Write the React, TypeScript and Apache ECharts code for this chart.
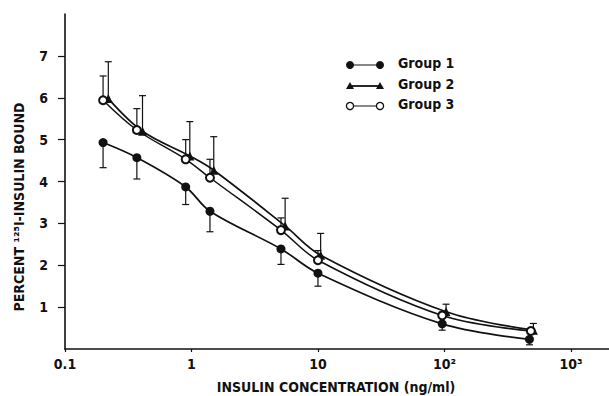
import React, { useEffect, useRef } from "react";
import * as echarts from "echarts";

// Concentrations (ng/ml)
const CONC_G1 = [0.2, 0.37, 0.9, 1.4, 5.1, 10, 96, 470];
const CONC_G2 = [0.22, 0.41, 0.97, 1.5, 5.5, 10.5, 103, 505];
const CONC_G3 = [0.2, 0.37, 0.9, 1.4, 5.1, 10, 96, 482];

// Percent 125I-insulin bound
const BOUND_G1 = [4.93, 4.57, 3.87, 3.29, 2.39, 1.81, 0.6, 0.23];
const BOUND_G2 = [5.98, 5.2, 4.61, 4.27, 2.94, 2.24, 0.89, 0.45];
const BOUND_G3 = [5.94, 5.23, 4.53, 4.09, 2.84, 2.12, 0.8, 0.43];

// Error bars (SD): group 1 drawn downward, groups 2 and 3 upward
const ERR_G1 = [0.6, 0.51, 0.42, 0.49, 0.37, 0.31, 0.15, 0.13];
const ERR_G2 = [0.88, 0.85, 0.82, 0.8, 0.66, 0.52, 0.18, 0.16];
const ERR_G3 = [0.58, 0.51, 0.47, 0.44, 0.29, 0.23, 0.08, 0.06];

const X_TICKS = [0.1, 1, 10, 100, 1000];
const X_TICK_LABELS = ["0.1", "1", "10", "10²", "10³"];
const Y_TICKS = [1, 2, 3, 4, 5, 6, 7];

const GROUP_NAMES = ["Group 1", "Group 2", "Group 3"];

const FONT = "'DejaVu Sans Condensed', 'Liberation Sans Narrow', 'DejaVu Sans', sans-serif";
const INK = "#111";

function zip(xs: number[], ys: number[], es?: number[]) {
  return xs.map((x, i) => (es ? [x, ys[i], es[i]] : [x, ys[i]]));
}

function errorSeries(data: number[][], dir: number) {
  return {
    type: "custom",
    silent: true,
    z: 1,
    encode: { x: 0, y: 1 },
    data,
    renderItem: (params: any, api: any) => {
      const x = api.value(0);
      const y = api.value(1);
      const e = api.value(2);
      const p0 = api.coord([x, y]);
      const p1 = api.coord([x, y + dir * e]);
      const st = { stroke: INK, lineWidth: 1.2 };
      return {
        type: "group",
        children: [
          { type: "line", shape: { x1: p0[0], y1: p0[1], x2: p1[0], y2: p1[1] }, style: st },
          { type: "line", shape: { x1: p1[0] - 3.5, y1: p1[1], x2: p1[0] + 3.5, y2: p1[1] }, style: st },
        ],
      };
    },
  };
}

export default function App() {
  const ref = useRef<HTMLDivElement>(null);
  useEffect(() => {
    if (!ref.current) return;
    const chart = echarts.init(ref.current, undefined, { renderer: "svg" });

    const legendRow = (i: number, y: number, textY: number) => {
      const kids: any[] = [
        { type: "line", shape: { x1: 350, y1: y, x2: 380, y2: y }, style: { stroke: INK, lineWidth: i === 1 ? 1.8 : 1 } },
      ];
      [350, 380].forEach((cx) => {
        if (i === 0) kids.push({ type: "circle", shape: { cx, cy: y, r: 4 }, style: { fill: INK } });
        if (i === 1)
          kids.push({
            type: "polygon",
            shape: { points: [[cx - 4, y + 3], [cx + 4, y + 3], [cx, y - 4]] },
            style: { fill: INK },
          });
        if (i === 2)
          kids.push({ type: "circle", shape: { cx, cy: y, r: 3.6 }, style: { fill: "#fff", stroke: INK, lineWidth: 1.3 } });
      });
      kids.push({
        type: "text",
        x: 398,
        y: textY,
        style: {
          text: GROUP_NAMES[i],
          font: `bold 14px ${FONT}`,
          fill: INK,
          textVerticalAlign: "middle",
          textAlign: "left",
        },
      });
      return { type: "group", children: kids };
    };

    const lineCommon = {
      type: "line",
      smooth: 0.35,
      symbolSize: 9,
    };

    const option: any = {
      animation: false,
      textStyle: { fontFamily: FONT },
      grid: { left: 65, right: 0, top: 14, bottom: 47, containLabel: false },
      xAxis: {
        type: "log",
        logBase: 10,
        min: 0.1,
        max: 2000,
        axisLine: { lineStyle: { color: INK, width: 1.6 } },
        axisTick: { show: true, length: 3, customValues: X_TICKS, lineStyle: { color: INK, width: 1.2 } },
        axisLabel: {
          customValues: X_TICKS,
          margin: 8,
          color: INK,
          fontSize: 14,
          fontWeight: "bold",
          fontFamily: FONT,
          formatter: (v: number) => {
            const idx = X_TICKS.findIndex((t) => Math.abs(Math.log10(t) - Math.log10(v)) < 0.01);
            return idx >= 0 ? X_TICK_LABELS[idx] : "";
          },
        },
        splitLine: { show: false },
        minorTick: { show: false },
      },
      yAxis: {
        type: "value",
        min: 0,
        max: 8,
        interval: 1,
        axisLine: { show: true, lineStyle: { color: INK, width: 1.6 } },
        axisTick: { show: true, length: 7, customValues: Y_TICKS, lineStyle: { color: INK, width: 1.2 } },
        axisLabel: {
          customValues: Y_TICKS,
          margin: 17,
          color: INK,
          fontSize: 14,
          fontWeight: "bold",
          fontFamily: FONT,
        },
        splitLine: { show: false },
      },
      graphic: [
        {
          type: "text",
          x: 19,
          y: 207,
          rotation: Math.PI / 2,
          style: {
            text: "PERCENT ¹²⁵I-INSULIN BOUND",
            font: `bold 14px ${FONT}`,
            fill: INK,
            textAlign: "center",
            textVerticalAlign: "middle",
          },
        },
        {
          type: "text",
          x: 336,
          y: 387,
          style: {
            text: "INSULIN CONCENTRATION (ng/ml)",
            font: `bold 14px ${FONT}`,
            fill: INK,
            textAlign: "center",
            textVerticalAlign: "middle",
          },
        },
        legendRow(0, 65, 63),
        legendRow(1, 86, 84),
        legendRow(2, 106, 104),
      ],
      series: [
        errorSeries(zip(CONC_G1, BOUND_G1, ERR_G1), -1),
        errorSeries(zip(CONC_G2, BOUND_G2, ERR_G2), 1),
        errorSeries(zip(CONC_G3, BOUND_G3, ERR_G3), 1),
        {
          ...lineCommon,
          name: GROUP_NAMES[0],
          z: 3,
          data: zip(CONC_G1, BOUND_G1),
          symbol: "circle",
          itemStyle: { color: INK },
          lineStyle: { color: INK, width: 1.7 },
        },
        {
          ...lineCommon,
          name: GROUP_NAMES[1],
          z: 3,
          data: zip(CONC_G2, BOUND_G2),
          symbol: "triangle",
          itemStyle: { color: INK },
          lineStyle: { color: INK, width: 1.7 },
        },
        {
          ...lineCommon,
          name: GROUP_NAMES[2],
          z: 4,
          data: zip(CONC_G3, BOUND_G3),
          symbol: "emptyCircle",
          symbolSize: 8,
          itemStyle: { color: INK, borderWidth: 1.4 },
          lineStyle: { color: INK, width: 1.5 },
        },
      ],
    };
    chart.setOption(option);
    return () => chart.dispose();
  }, []);

  return (
    <div
      ref={ref}
      style={{ position: "fixed", left: 0, top: 0, width: 609, height: 396, background: "#fff" }}
    />
  );
}
